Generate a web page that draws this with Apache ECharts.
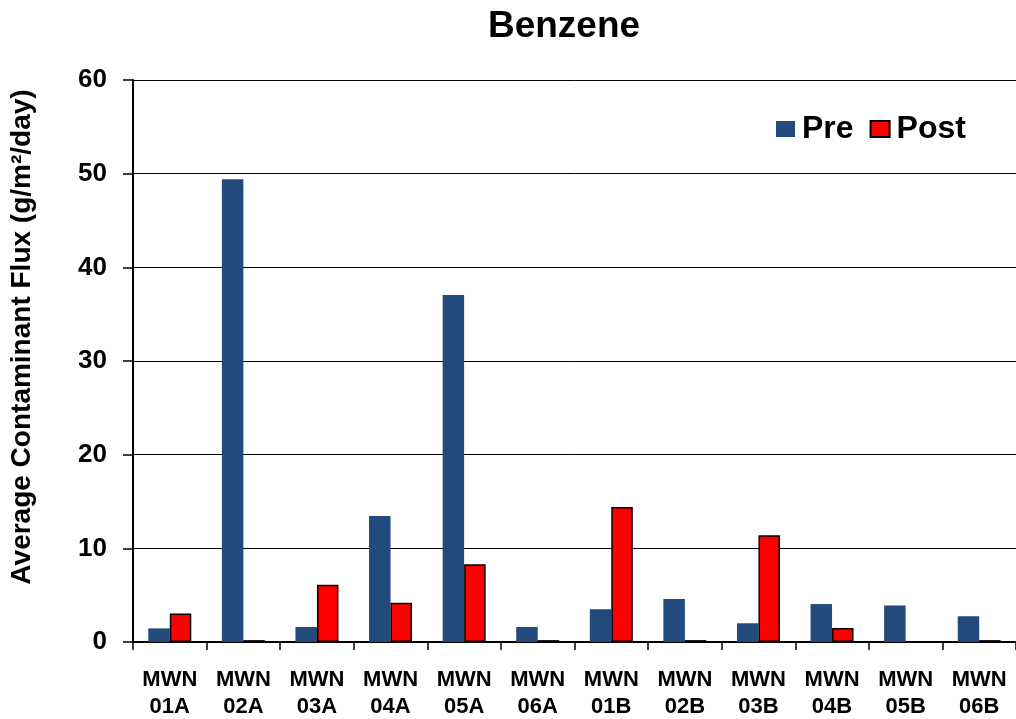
<!DOCTYPE html>
<html>
<head>
<meta charset="utf-8">
<script src="https://cdn.jsdelivr.net/npm/echarts@6/dist/echarts.min.js"></script>
<style>
html,body{margin:0;padding:0;background:#fff;}
#c{width:1016px;height:719px;}
</style>
</head>
<body>
<div id="c"></div>
<script>
var categories = ['MWN\n01A','MWN\n02A','MWN\n03A','MWN\n04A','MWN\n05A','MWN\n06A','MWN\n01B','MWN\n02B','MWN\n03B','MWN\n04B','MWN\n05B','MWN\n06B'];
var preValues  = [1.45, 49.4, 1.6, 13.45, 37.05, 1.6, 3.5, 4.6, 2.0, 4.05, 3.9, 2.75];
var postValues = [3.05, 0.2, 6.1, 4.2, 8.3, 0.2, 14.4, 0.2, 11.4, 1.5, null, 0.2];
var yTicks = { min: 0, max: 60, interval: 10 };

var FONT = '"Liberation Sans", Arial, sans-serif';
var chart = echarts.init(document.getElementById('c'), null, {renderer: 'canvas'});
chart.setOption({
  animation: false,
  backgroundColor: '#ffffff',
  title: {
    text: 'Benzene',
    left: 559, top: 3, textAlign: 'center',
    textStyle: {fontFamily: FONT, fontWeight: 'bold', fontSize: 37, color: '#000'}
  },
  legend: {
    left: 771, top: 108,
    icon: 'rect',
    itemWidth: 19, itemHeight: 16, itemGap: 16,
    textStyle: {fontFamily: FONT, fontWeight: 'bold', fontSize: 32, color: '#000', padding: [0,0,0,2]},
    data: ['Pre', 'Post']
  },
  grid: {left: 133, right: 0, top: 80, bottom: 77, containLabel: false, outerBoundsMode: 'none'},
  xAxis: {
    type: 'category',
    data: categories,
    axisLine: {lineStyle: {color: '#000', width: 2}},
    axisTick: {show: true, alignWithLabel: false, length: 8, lineStyle: {color: '#000', width: 1.5}},
    axisLabel: {fontFamily: FONT, fontWeight: 'bold', fontSize: 22, color: '#000', lineHeight: 27, margin: 24, interval: 0}
  },
  yAxis: {
    type: 'value',
    min: yTicks.min, max: yTicks.max, interval: yTicks.interval,
    name: 'Average Contaminant Flux (g/m²/day)',
    nameLocation: 'middle', nameRotate: 90, nameGap: 97,
    nameTextStyle: {fontFamily: FONT, fontWeight: 'bold', fontSize: 28, color: '#000', padding: [0,0,0,48]},
    axisLine: {show: true, lineStyle: {color: '#000', width: 2}},
    axisTick: {show: true, length: 10, lineStyle: {color: '#000', width: 1.5}},
    axisLabel: {fontFamily: FONT, fontWeight: 'bold', fontSize: 26, color: '#000', margin: 26},
    splitLine: {show: true, lineStyle: {color: '#000', width: 1}}
  },
  series: [
    {
      name: 'Pre', type: 'bar', data: preValues,
      barWidth: 21.5, barGap: '0%',
      itemStyle: {color: '#234A7C'}
    },
    {
      name: 'Post', type: 'bar', data: postValues,
      barWidth: 21.5, barGap: '0%',
      itemStyle: {color: '#FF0000', borderColor: '#000', borderWidth: 1.5}
    }
  ]
});
</script>
</body>
</html>
